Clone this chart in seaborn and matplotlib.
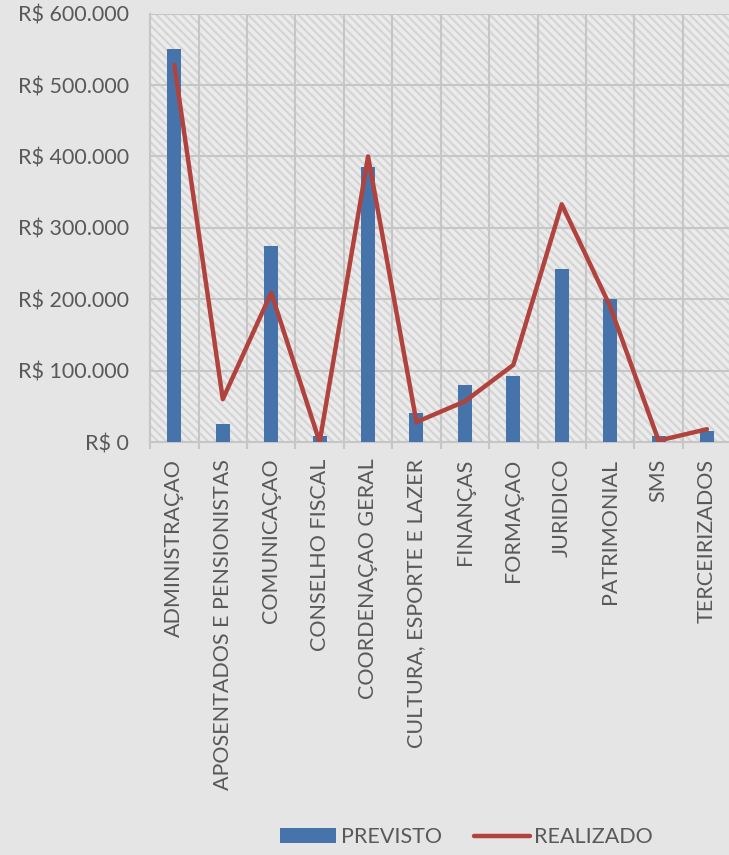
import matplotlib
matplotlib.use("Agg")
import matplotlib.pyplot as plt
import matplotlib.ticker as mticker
from matplotlib.patches import Rectangle, Patch
from matplotlib.lines import Line2D
import numpy as np
import pandas as pd
import seaborn as sns

categorias = ["ADMINISTRAÇAO", "APOSENTADOS E PENSIONISTAS", "COMUNICAÇAO",
              "CONSELHO FISCAL", "COORDENAÇAO GERAL", "CULTURA, ESPORTE E LAZER",
              "FINANÇAS", "FORMAÇAO", "JURIDICO", "PATRIMONIAL", "SMS",
              "TERCEIRIZADOS"]
previsto = [550000, 25000, 275000, 8000, 385000, 41000, 80000, 92000,
            243000, 200000, 8000, 16000]
realizado = [528000, 60000, 209000, 0, 400000, 28000, 57000, 108000,
             333000, 190000, 2000, 18000]

bg = "#e5e5e5"
texto = "#595959"
grade = "#c6c6c6"
cor_barra = "#4673AA"
cor_linha = "#B1433F"
fs = 15.5

sns.set_theme(style="white")
plt.rcParams["font.family"] = ["Lato", "DejaVu Sans"]
plt.rcParams["hatch.linewidth"] = 1.6

fig = plt.figure(figsize=(7.29, 8.55), dpi=100, facecolor=bg)
ax = fig.add_axes([0.206, 0.483, 0.797, 0.501])
ax.set_facecolor("#ebebeb")

# fundo hachurado da area do grafico
ax.add_patch(Rectangle((0, 0), 1, 1, transform=ax.transAxes, facecolor="none",
                       edgecolor="#d5d5d5", linewidth=0, hatch="\\\\\\\\",
                       zorder=0))

df = pd.DataFrame({"categoria": categorias, "previsto": previsto,
                   "realizado": realizado})
sns.barplot(data=df, x="categoria", y="previsto", color=cor_barra,
            saturation=1, width=0.29, linewidth=0, ax=ax, zorder=3)
sns.lineplot(x=np.arange(len(categorias)), y=df["realizado"], color=cor_linha,
             linewidth=3.2, ax=ax, zorder=4)

ax.set_xlim(-0.5, len(categorias) - 0.5)
ax.set_ylim(0, 600000)
ax.yaxis.set_major_locator(mticker.MultipleLocator(100000))
ax.yaxis.set_major_formatter(mticker.FuncFormatter(
    lambda v, p: "R$ 0" if v == 0 else "R$ " + f"{int(v):,}".replace(",", ".")))
ax.set_xticks(np.arange(len(categorias)))
ax.set_xticklabels(categorias, rotation=90)
ax.set_xticks(np.arange(-0.5, len(categorias), 1), minor=True)

ax.grid(True, axis="y", which="major", color=grade, linewidth=1.5, zorder=1)
ax.grid(True, axis="x", which="minor", color=grade, linewidth=1.5, zorder=1)
ax.set_axisbelow(True)

ax.tick_params(axis="x", which="major", length=0, pad=12, labelsize=fs,
               labelcolor=texto)
ax.tick_params(axis="x", which="minor", length=5, color=grade, width=1.5,
               direction="out")
ax.tick_params(axis="y", length=0, pad=15, labelsize=fs, labelcolor=texto)
ax.xaxis.set_tick_params(which="minor", bottom=True)

for lado in ["top", "right"]:
    ax.spines[lado].set_visible(False)
for lado in ["left", "bottom"]:
    ax.spines[lado].set_color(grade)
    ax.spines[lado].set_linewidth(1.5)
ax.set_xlabel("")
ax.set_ylabel("")

handles = [Patch(facecolor=cor_barra, edgecolor="none"),
           Line2D([0], [0], color=cor_linha, linewidth=3.2)]
leg = fig.legend(handles, ["PREVISTO", "REALIZADO"], loc="center",
                 bbox_to_anchor=(0.64, 0.021), ncol=2, frameon=False,
                 fontsize=fs, handlelength=2.6, handleheight=0.65,
                 handletextpad=0.2, columnspacing=1.5)
for t in leg.get_texts():
    t.set_color(texto)

fig.savefig("out.png", dpi=100, facecolor=bg)
